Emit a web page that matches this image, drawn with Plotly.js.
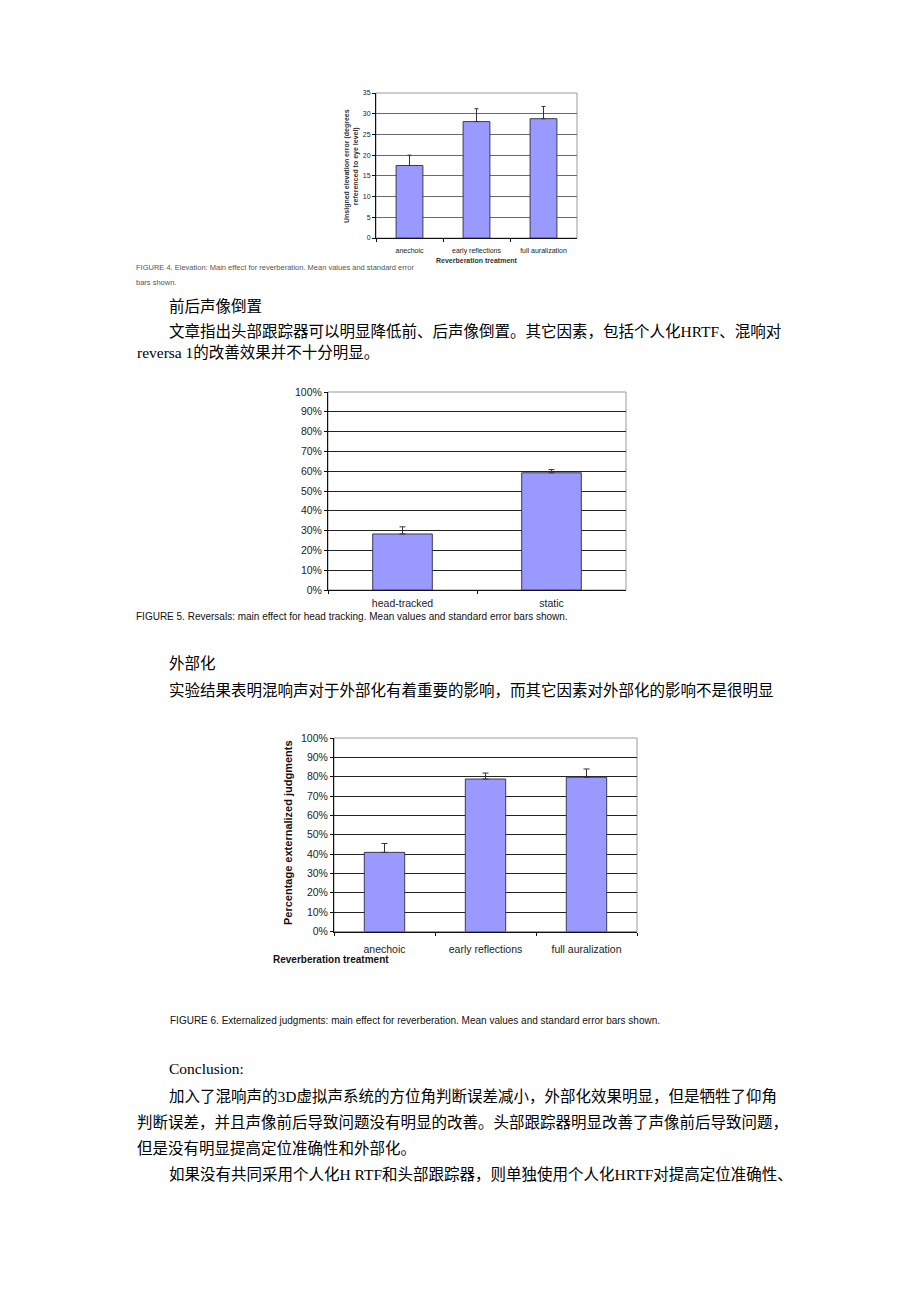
<!DOCTYPE html>
<html>
<head>
<meta charset="utf-8">
<script src="https://cdn.plot.ly/plotly-3.0.1.min.js"></script>
<style>html,body{margin:0;padding:0;background:#fff;}#page{width:920px;height:1302px;}</style>
</head>
<body>
<div id="page"></div>
<script>
// ---------- data ----------
const fig4Categories = ['anechoic', 'early reflections', 'full auralization'];
const fig4Means = [17.5, 28.1, 28.8];
const fig4Errors = [2.5, 3.1, 2.95];
const fig4YTicks = [0, 5, 10, 15, 20, 25, 30, 35];

const fig5Categories = ['head-tracked', 'static'];
const fig5Means = [0.283, 0.592];
const fig5Errors = [0.036, 0.016];

const fig6Categories = ['anechoic', 'early reflections', 'full auralization'];
const fig6Means = [0.409, 0.788, 0.797];
const fig6Errors = [0.046, 0.031, 0.043];

const fig4Caption = ['FIGURE 4. Elevation: Main effect for reverberation. Mean values and standard error', 'bars shown.'];
const fig5Caption = 'FIGURE 5. Reversals: main effect for head tracking. Mean values and standard error bars shown.';
const fig6Caption = 'FIGURE 6. Externalized judgments: main effect for reverberation. Mean values and standard error bars shown.';
const fig4YTitle = 'Unsigned elevation error (degrees<br>referenced to eye level)';
const fig6YTitle = 'Percentage externalized judgments';
const reverbTitle = 'Reverberation treatment';

const bodyTexts = [
  '前后声像倒置',
  '文章指出头部跟踪器可以明显降低前、后声像倒置。其它因素，包括个人化HRTF、混响对',
  'reversa 1的改善效果并不十分明显。',
  '外部化',
  '实验结果表明混响声对于外部化有着重要的影响，而其它因素对外部化的影响不是很明显',
  'Conclusion:',
  '加入了混响声的3D虚拟声系统的方位角判断误差减小，外部化效果明显，但是牺牲了仰角',
  '判断误差，并且声像前后导致问题没有明显的改善。头部跟踪器明显改善了声像前后导致问题，',
  '但是没有明显提高定位准确性和外部化。',
  '如果没有共同采用个人化H RTF和头部跟踪器，则单独使用个人化HRTF对提高定位准确性、'
];

// ---------- layout helpers (pixel -> paper) ----------
const W = 920, H = 1302;
const px = v => v / W;
const py = v => 1 - v / H;

const bodyPos = [
  [167, 306], [167, 331], [135, 353], [167, 663], [167, 690],
  [167, 1068], [167, 1096], [135, 1122], [135, 1148], [167, 1174]
];

const SANS = 'Liberation Sans, Arial, sans-serif';
const BODY = "'Liberation Serif', 'Noto Sans CJK SC', serif";
const BAR = '#9999ff';
const BAREDGE = '#3a3a5a';

function barTrace(cats, vals, errs, xa, ya, capw) {
  return {
    type: 'bar', x: cats, y: vals, xaxis: xa, yaxis: ya,
    marker: {color: BAR, line: {color: BAREDGE, width: 1}},
    error_y: {type: 'data', array: errs, arrayminus: errs.map(() => 0), symmetric: false,
              color: '#333', thickness: 1, width: capw},
    hoverinfo: 'skip', showlegend: false
  };
}

const data = [
  barTrace(fig4Categories, fig4Means, fig4Errors, 'x', 'y', 2),
  barTrace(fig5Categories, fig5Means, fig5Errors, 'x2', 'y2', 3),
  barTrace(fig6Categories, fig6Means, fig6Errors, 'x3', 'y3', 3)
];

function xAxis(domain, anchor, size, standoff) {
  return {
    domain: domain, anchor: anchor, type: 'category',
    showline: true, linecolor: '#111', linewidth: 1,
    ticks: 'outside', tickson: 'boundaries', ticklen: 3, tickcolor: '#111',
    tickfont: {family: SANS, size: size, color: '#222'},
    ticklabelstandoff: standoff,
    showgrid: false, zeroline: false, fixedrange: true
  };
}
function yAxis(domain, anchor, range, dtick, fmt, size, gridcolor) {
  return {
    domain: domain, anchor: anchor, range: range, dtick: dtick, tickformat: fmt,
    showline: true, linecolor: '#111', linewidth: 1,
    ticks: 'outside', ticklen: 3, tickcolor: '#111',
    tickfont: {family: SANS, size: size, color: '#222'},
    showgrid: true, gridcolor: gridcolor, gridwidth: 1,
    zeroline: false, fixedrange: true
  };
}

const frame = (xr, yr) => ({
  type: 'rect', xref: xr + ' domain', yref: yr + ' domain', x0: 0, x1: 1, y0: 0, y1: 1,
  line: {color: '#9a9a9a', width: 1}, layer: 'below'
});

const annotations = [];
bodyTexts.forEach((t, i) => {
  annotations.push({
    text: t, xref: 'paper', yref: 'paper', x: px(bodyPos[i][0]), y: py(bodyPos[i][1]),
    xanchor: 'left', yanchor: 'middle', showarrow: false,
    font: {family: BODY, size: 15.5, color: '#000'}
  });
});
// captions
annotations.push({text: fig4Caption[0], xref: 'paper', yref: 'paper', x: px(134), y: py(268),
  xanchor: 'left', yanchor: 'middle', showarrow: false, font: {family: SANS, size: 7.5, color: '#555'}});
annotations.push({text: fig4Caption[1], xref: 'paper', yref: 'paper', x: px(134), y: py(282),
  xanchor: 'left', yanchor: 'middle', showarrow: false, font: {family: SANS, size: 7.5, color: '#555'}});
annotations.push({text: fig5Caption, xref: 'paper', yref: 'paper', x: px(134), y: py(617),
  xanchor: 'left', yanchor: 'middle', showarrow: false, font: {family: SANS, size: 10, color: '#111'}});
annotations.push({text: fig6Caption, xref: 'paper', yref: 'paper', x: px(168), y: py(1020),
  xanchor: 'left', yanchor: 'middle', showarrow: false, font: {family: SANS, size: 10, color: '#111'}});
// axis titles
annotations.push({text: fig4YTitle, xref: 'paper', yref: 'paper', x: px(352), y: py(166),
  xanchor: 'center', yanchor: 'middle', textangle: -90, showarrow: false,
  font: {family: SANS, size: 7, color: '#333', weight: 'bold'}});
annotations.push({text: '<b>' + reverbTitle + '</b>', xref: 'paper', yref: 'paper', x: px(477), y: py(261),
  xanchor: 'center', yanchor: 'middle', showarrow: false,
  font: {family: SANS, size: 7, color: '#333'}});
annotations.push({text: '<b>' + fig6YTitle + '</b>', xref: 'paper', yref: 'paper', x: px(288), y: py(833),
  xanchor: 'center', yanchor: 'middle', textangle: -90, showarrow: false,
  font: {family: SANS, size: 11, color: '#111'}});
annotations.push({text: '<b>' + reverbTitle + '</b>', xref: 'paper', yref: 'paper', x: px(271), y: py(959),
  xanchor: 'left', yanchor: 'middle', showarrow: false,
  font: {family: SANS, size: 10, color: '#111'}});

const layout = {
  width: W, height: H, margin: {l: 0, r: 0, t: 0, b: 0, pad: 0},
  paper_bgcolor: '#fff', plot_bgcolor: '#fff',
  bargap: 0.6, showlegend: false,
  xaxis: xAxis([px(376), px(577)], 'y', 7, 6),
  yaxis: yAxis([py(238), py(93)], 'x', [0, 35], 5, '', 7, '#6a6a6a'),
  xaxis2: xAxis([px(328), px(626)], 'y2', 10.5, 3),
  yaxis2: yAxis([py(590), py(392)], 'x2', [0, 1], 0.1, '.0%', 10.5, '#222'),
  xaxis3: xAxis([px(334), px(637)], 'y3', 10.5, 8),
  yaxis3: yAxis([py(931.5), py(738)], 'x3', [0, 1], 0.1, '.0%', 10.5, '#222'),
  shapes: [frame('x', 'y'), frame('x2', 'y2'), frame('x3', 'y3')],
  annotations: annotations
};
layout.yaxis.tickvals = fig4YTicks;

Plotly.newPlot('page', data, layout, {staticPlot: true, displayModeBar: false});
</script>
</body>
</html>
